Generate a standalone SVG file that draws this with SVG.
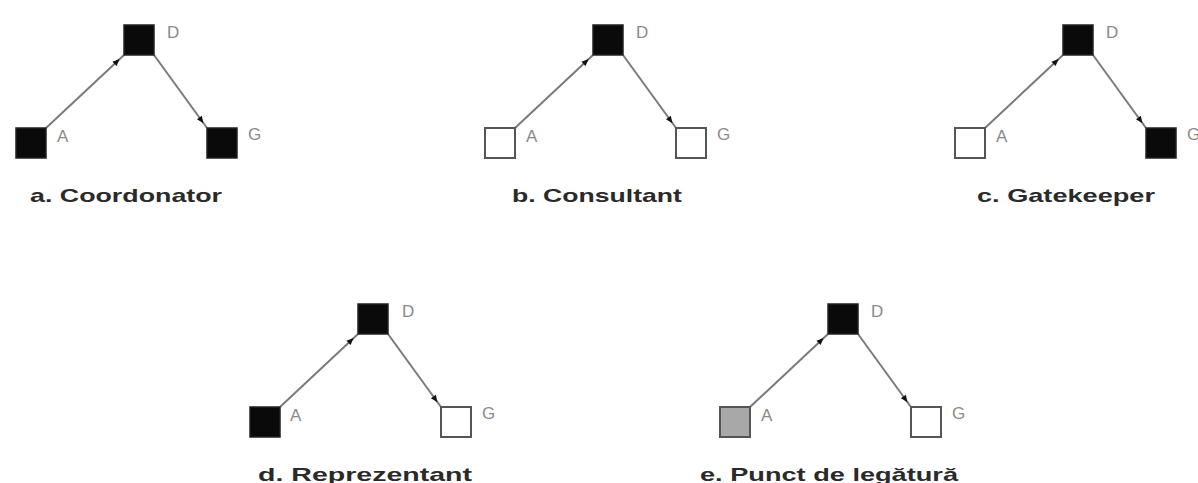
<svg xmlns="http://www.w3.org/2000/svg" width="1198" height="483" viewBox="0 0 1198 483">
<style>
.bg{fill:#ffffff}
.blk{fill:#0a0a0a;stroke:#222;stroke-width:1.5}
.wht{fill:#ffffff;stroke:#555;stroke-width:2}
.gry{fill:#a8a8a8;stroke:#555;stroke-width:2}
.edge{stroke:#7a7a7a;stroke-width:2;fill:none;marker-end:url(#arr)}
.lbl{font-family:"Liberation Sans",Arial,sans-serif;font-size:17px;fill:#8a8a8a}
.cap{font-family:"Liberation Sans",Arial,sans-serif;font-size:19px;font-weight:bold;fill:#2a2a2a}
</style>
<defs>
<marker id="arr" viewBox="0 0 8 8" markerWidth="8" markerHeight="8" refX="13" refY="4" orient="auto" markerUnits="userSpaceOnUse" overflow="visible">
<path d="M0,1 L7,4 L0,7 z" fill="#111"/>
</marker>
</defs>
<rect class="bg" x="0" y="0" width="1198" height="483"/>

<g id="connectors">
<!-- a -->
<line class="edge" x1="46" y1="128" x2="124" y2="55"/>
<line class="edge" x1="154" y1="55" x2="207" y2="128"/>
<!-- b -->
<line class="edge" x1="515" y1="128" x2="593" y2="55"/>
<line class="edge" x1="623" y1="55" x2="676" y2="128"/>
<!-- c -->
<line class="edge" x1="985" y1="128" x2="1063" y2="55"/>
<line class="edge" x1="1093" y1="55" x2="1146" y2="128"/>
<!-- d -->
<line class="edge" x1="280" y1="407" x2="358" y2="334"/>
<line class="edge" x1="388" y1="334" x2="441" y2="407"/>
<!-- e -->
<line class="edge" x1="750" y1="407" x2="828" y2="334"/>
<line class="edge" x1="858" y1="334" x2="911" y2="407"/>
</g>

<!-- Panel a -->
<g id="a-D"><rect class="blk" x="124" y="25" width="30" height="30"/><text class="lbl" x="167" y="38">D</text></g>
<g id="a-A"><rect class="blk" x="16" y="128" width="30" height="30"/><text class="lbl" x="57" y="142">A</text></g>
<g id="a-G"><rect class="blk" x="207" y="128" width="30" height="30"/><text class="lbl" x="248" y="140">G</text></g>
<g id="a-caption"><text class="cap" x="30" y="202" textLength="192" lengthAdjust="spacingAndGlyphs">a. Coordonator</text></g>

<!-- Panel b -->
<g id="b-D"><rect class="blk" x="593" y="25" width="30" height="30"/><text class="lbl" x="636" y="38">D</text></g>
<g id="b-A"><rect class="wht" x="485" y="128" width="30" height="30"/><text class="lbl" x="526" y="142">A</text></g>
<g id="b-G"><rect class="wht" x="676" y="128" width="30" height="30"/><text class="lbl" x="717" y="140">G</text></g>
<g id="b-caption"><text class="cap" x="512" y="202" textLength="170" lengthAdjust="spacingAndGlyphs">b. Consultant</text></g>

<!-- Panel c -->
<g id="c-D"><rect class="blk" x="1063" y="25" width="30" height="30"/><text class="lbl" x="1106" y="38">D</text></g>
<g id="c-A"><rect class="wht" x="955" y="128" width="30" height="30"/><text class="lbl" x="996" y="142">A</text></g>
<g id="c-G"><rect class="blk" x="1146" y="128" width="30" height="30"/><text class="lbl" x="1187" y="140">G</text></g>
<g id="c-caption"><text class="cap" x="977" y="202" textLength="178" lengthAdjust="spacingAndGlyphs">c. Gatekeeper</text></g>

<!-- Panel d -->
<g id="d-D"><rect class="blk" x="358" y="304" width="30" height="30"/><text class="lbl" x="402" y="317">D</text></g>
<g id="d-A"><rect class="blk" x="250" y="407" width="30" height="30"/><text class="lbl" x="290" y="421">A</text></g>
<g id="d-G"><rect class="wht" x="441" y="407" width="30" height="30"/><text class="lbl" x="482" y="419">G</text></g>
<g id="d-caption"><text class="cap" x="258" y="481" textLength="214" lengthAdjust="spacingAndGlyphs">d. Reprezentant</text></g>

<!-- Panel e -->
<g id="e-D"><rect class="blk" x="828" y="304" width="30" height="30"/><text class="lbl" x="871" y="317">D</text></g>
<g id="e-A"><rect class="gry" x="720" y="407" width="30" height="30"/><text class="lbl" x="761" y="421">A</text></g>
<g id="e-G"><rect class="wht" x="911" y="407" width="30" height="30"/><text class="lbl" x="952" y="419">G</text></g>
<g id="e-caption"><text class="cap" x="700" y="481" textLength="258" lengthAdjust="spacingAndGlyphs">e. Punct de legătură</text></g>
</svg>
